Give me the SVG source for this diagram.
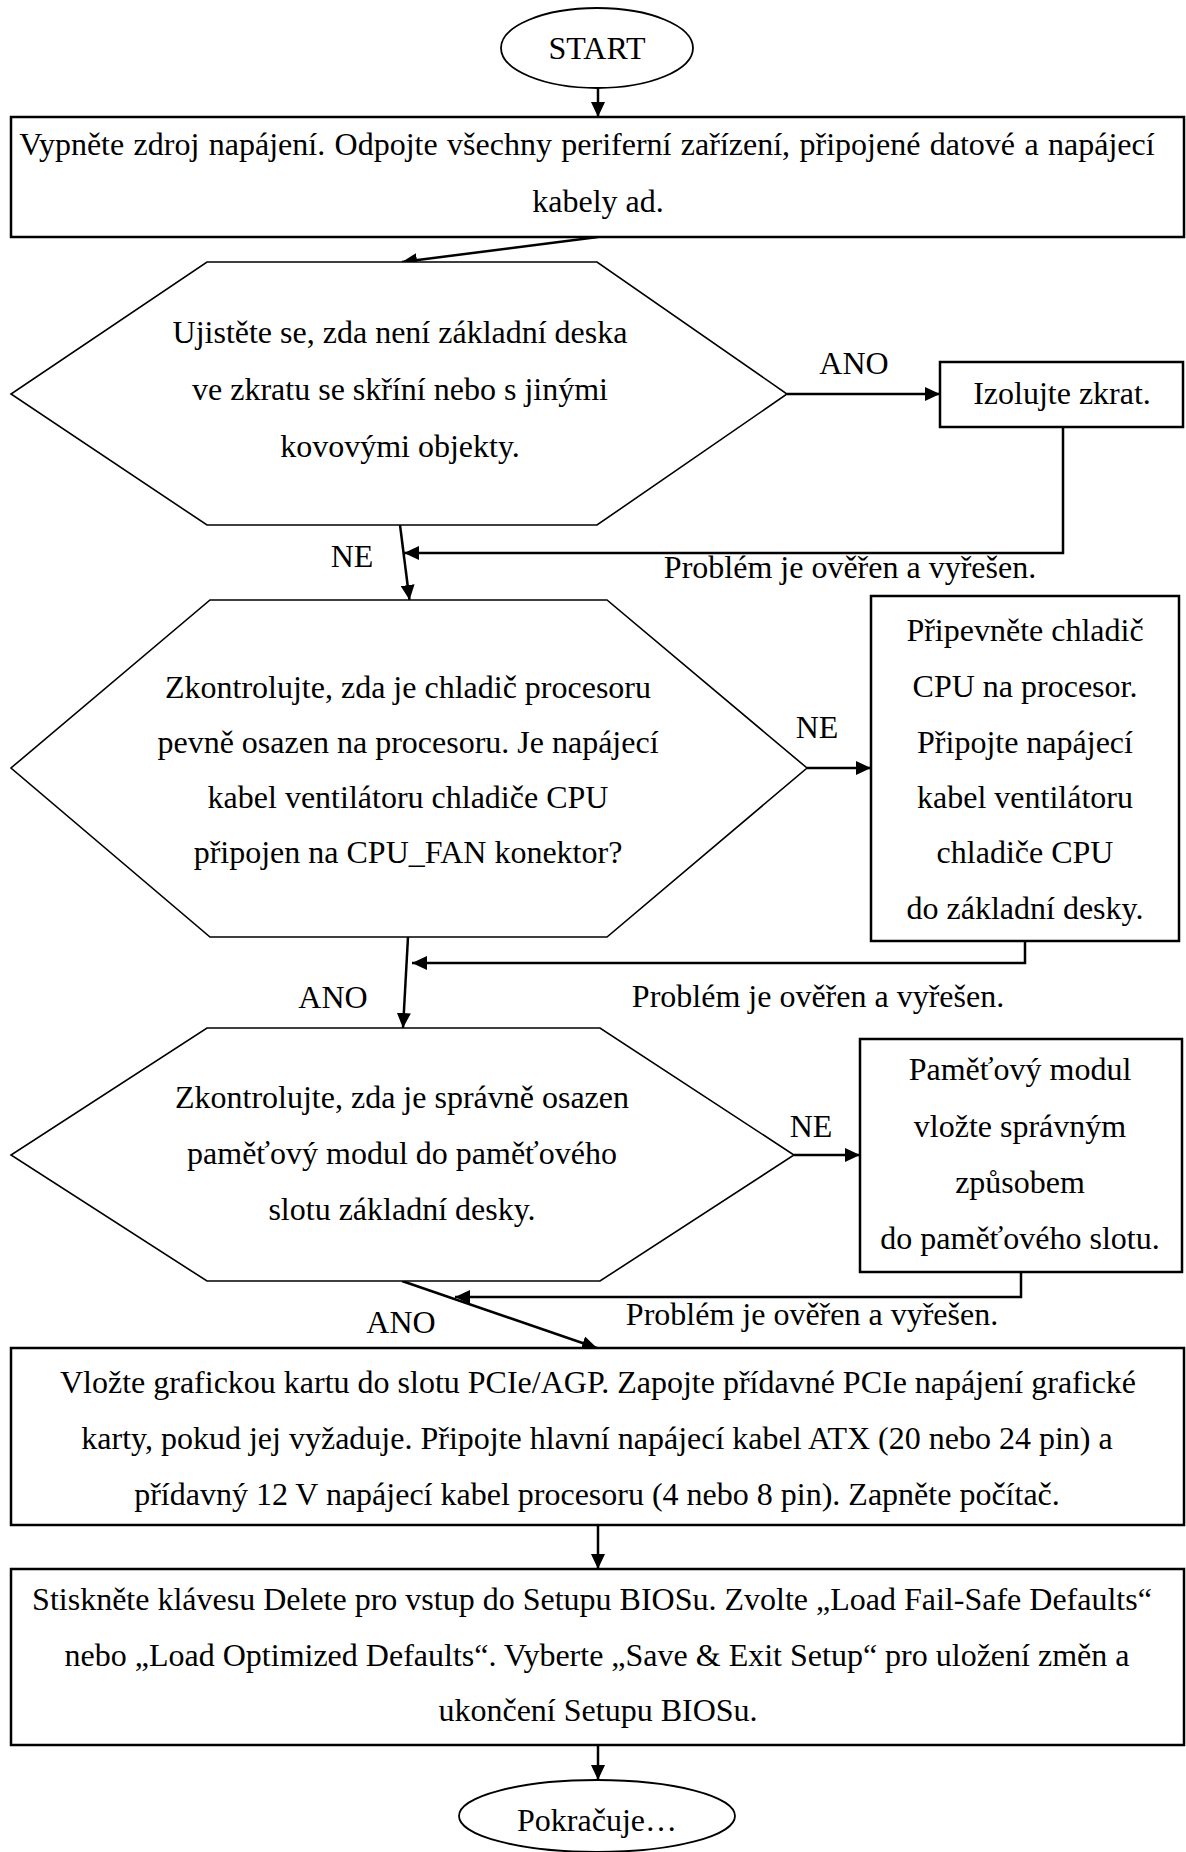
<svg xmlns="http://www.w3.org/2000/svg" width="1186" height="1852" viewBox="0 0 1186 1852">
  <style>
    text { font-family: "Liberation Serif", "Times New Roman", serif; font-size: 32px; fill: #000; text-anchor: middle; }
    .box { fill: #fff; stroke: #000; stroke-width: 2.5; }
    .hex { fill: #fff; stroke: #000; stroke-width: 1.6; }
    .term { fill: #fff; stroke: #000; stroke-width: 1.8; }
    .conn { fill: none; stroke: #000; stroke-width: 2.5; }
  </style>
  <defs>
    <marker id="arr" markerUnits="userSpaceOnUse" markerWidth="16" markerHeight="14" refX="15" refY="7" orient="auto">
      <path d="M0,0 L15,7 L0,14 Z" fill="#000"/>
    </marker>
  </defs>
  <rect width="1186" height="1852" fill="#fff"/>

  <g id="connectors">
    <line class="conn" x1="598" y1="88" x2="598" y2="117" marker-end="url(#arr)"/>
    <line class="conn" x1="598" y1="237" x2="402" y2="262" marker-end="url(#arr)"/>
    <line class="conn" x1="787" y1="394" x2="940" y2="394" marker-end="url(#arr)"/>
    <polyline class="conn" points="1063,427 1063,553 404,553" marker-end="url(#arr)"/>
    <line class="conn" x1="400" y1="525" x2="409.5" y2="600" marker-end="url(#arr)"/>
    <line class="conn" x1="807" y1="768" x2="871" y2="768" marker-end="url(#arr)"/>
    <polyline class="conn" points="1025,941 1025,963 412,963" marker-end="url(#arr)"/>
    <line class="conn" x1="408" y1="937" x2="403" y2="1028" marker-end="url(#arr)"/>
    <line class="conn" x1="794" y1="1155" x2="860" y2="1155" marker-end="url(#arr)"/>
    <polyline class="conn" points="1021,1272 1021,1297 455,1297" marker-end="url(#arr)"/>
    <line class="conn" x1="402" y1="1281" x2="597" y2="1348" marker-end="url(#arr)"/>
    <line class="conn" x1="598" y1="1525" x2="598" y2="1569" marker-end="url(#arr)"/>
    <line class="conn" x1="598" y1="1745" x2="598" y2="1780" marker-end="url(#arr)"/>
    <text x="854" y="374">ANO</text>
    <text x="850" y="578">Problém je ověřen a vyřešen.</text>
    <text x="352" y="567">NE</text>
    <text x="817" y="738">NE</text>
    <text x="818" y="1007">Problém je ověřen a vyřešen.</text>
    <text x="333" y="1008">ANO</text>
    <text x="811" y="1137">NE</text>
    <text x="812" y="1325">Problém je ověřen a vyřešen.</text>
    <text x="401" y="1333">ANO</text>
  </g>

  <g id="start">
    <ellipse class="term" cx="597" cy="48" rx="96" ry="40"/>
    <text x="597" y="59">START</text>
  </g>

  <g id="step1">
    <rect class="box" x="11" y="117" width="1173" height="120"/>
    <text x="587" y="155" word-spacing="1.4">Vypněte zdroj napájení. Odpojte všechny periferní zařízení, připojené datové a napájecí</text>
    <text x="598" y="212">kabely ad.</text>
  </g>

  <g id="decision1">
    <polygon class="hex" points="207,262 597,262 787,394 597,525 207,525 11,394"/>
    <text x="400" y="343">Ujistěte se, zda není základní deska</text>
    <text x="400" y="400">ve zkratu se skříní nebo s jinými</text>
    <text x="400" y="457">kovovými objekty.</text>
  </g>

  <g id="fix1">
    <rect class="box" x="940" y="362" width="243" height="65"/>
    <text x="1062" y="404">Izolujte zkrat.</text>
  </g>

  <g id="decision2">
    <polygon class="hex" points="210,600 607,600 807,768 607,937 210,937 11,768"/>
    <text x="408" y="698">Zkontrolujte, zda je chladič procesoru</text>
    <text x="408" y="753">pevně osazen na procesoru. Je napájecí</text>
    <text x="408" y="808">kabel ventilátoru chladiče CPU</text>
    <text x="408" y="863">připojen na CPU_FAN konektor?</text>
  </g>

  <g id="fix2">
    <rect class="box" x="871" y="596" width="308" height="345"/>
    <text x="1025" y="641">Připevněte chladič</text>
    <text x="1025" y="697">CPU na procesor.</text>
    <text x="1025" y="753">Připojte napájecí</text>
    <text x="1025" y="808">kabel ventilátoru</text>
    <text x="1025" y="863">chladiče CPU</text>
    <text x="1025" y="919">do základní desky.</text>
  </g>

  <g id="decision3">
    <polygon class="hex" points="207,1028 600,1028 794,1155 600,1281 207,1281 11,1155"/>
    <text x="402" y="1108">Zkontrolujte, zda je správně osazen</text>
    <text x="402" y="1164">paměťový modul do paměťového</text>
    <text x="402" y="1220">slotu základní desky.</text>
  </g>

  <g id="fix3">
    <rect class="box" x="860" y="1039" width="322" height="233"/>
    <text x="1020" y="1080">Paměťový modul</text>
    <text x="1020" y="1137">vložte správným</text>
    <text x="1020" y="1193">způsobem</text>
    <text x="1020" y="1249">do paměťového slotu.</text>
  </g>

  <g id="step2">
    <rect class="box" x="11" y="1348" width="1173" height="177"/>
    <text x="598" y="1393">Vložte grafickou kartu do slotu PCIe/AGP. Zapojte přídavné PCIe napájení grafické</text>
    <text x="597" y="1449">karty, pokud jej vyžaduje. Připojte hlavní napájecí kabel ATX (20 nebo 24 pin) a</text>
    <text x="597" y="1505">přídavný 12 V napájecí kabel procesoru (4 nebo 8 pin). Zapněte počítač.</text>
  </g>

  <g id="step3">
    <rect class="box" x="11" y="1569" width="1173" height="176"/>
    <text x="592" y="1610">Stiskněte klávesu Delete pro vstup do Setupu BIOSu. Zvolte „Load Fail-Safe Defaults“</text>
    <text x="597" y="1666">nebo „Load Optimized Defaults“. Vyberte „Save &amp; Exit Setup“ pro uložení změn a</text>
    <text x="598" y="1721">ukončení Setupu BIOSu.</text>
  </g>

  <g id="end">
    <ellipse class="term" cx="597" cy="1816" rx="138" ry="36"/>
    <text x="597" y="1831">Pokračuje…</text>
  </g>
</svg>
